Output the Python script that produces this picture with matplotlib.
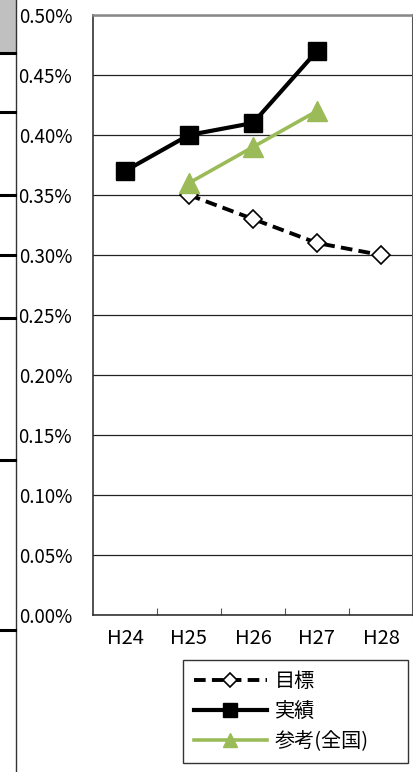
import matplotlib
matplotlib.use("Agg")
import matplotlib.pyplot as plt
import matplotlib.ticker as mticker
from matplotlib.lines import Line2D
from matplotlib.patches import Rectangle

plt.rcParams["font.family"] = ["Noto Sans CJK JP", "DejaVu Sans"]

years = ["H24", "H25", "H26", "H27", "H28"]
target = [None, 0.35, 0.33, 0.31, 0.30]       # 目標
actual = [0.37, 0.40, 0.41, 0.47, None]       # 実績
national = [None, 0.36, 0.39, 0.42, None]     # 参考(全国)

GREEN = "#9bbb59"
W, H = 414, 772


def _pts(series):
    xs = [i for i, v in enumerate(series) if v is not None]
    ys = [v for v in series if v is not None]
    return xs, ys


fig = plt.figure(figsize=(W / 100, H / 100), dpi=100)
ax = fig.add_axes([93 / W, 1 - 615 / H, 320 / W, 600 / H])

x, y = _pts(target)
ax.plot(x, y, color="black", lw=2.8, ls=(0, (3, 1.6)), marker="D", ms=9,
        mfc="white", mec="black", mew=1.2, label="目標", zorder=3)
x, y = _pts(actual)
ax.plot(x, y, color="black", lw=3, marker="s", ms=13, label="実績", zorder=4)
x, y = _pts(national)
ax.plot(x, y, color=GREEN, lw=2.6, marker="^", ms=14, label="参考(全国)", zorder=5)

ax.set_xlim(-0.5, 4.5)
ax.set_ylim(0, 0.5)
ax.set_xticks(range(len(years)))
ax.set_xticklabels(years)
ax.set_xticks([0.5, 1.5, 2.5, 3.5], minor=True)
ax.tick_params(axis="x", which="major", length=0, pad=9, labelsize=14.5)
ax.tick_params(axis="x", which="minor", direction="in", length=5, width=0.8,
               color="#555555")
ax.set_yticks([i * 0.05 for i in range(11)])
ax.yaxis.set_major_formatter(mticker.FuncFormatter(lambda v, _: f"{v:.2f}%"))
ax.tick_params(axis="y", length=0, pad=15, labelsize=13.5)

ax.grid(axis="y", color="#222222", lw=0.9)
ax.set_axisbelow(True)
for side in ["left", "bottom"]:
    ax.spines[side].set_color("#333333")
    ax.spines[side].set_linewidth(1.2)
ax.spines["top"].set_color("#888888")
ax.spines["top"].set_linewidth(1.8)
ax.spines["right"].set_color("#555555")
ax.spines["right"].set_linewidth(1.5)

leg = fig.legend(loc="upper left",
                 bbox_to_anchor=(183 / W, 1 - 765 / H, 225 / W, 105 / H),
                 mode="expand", fontsize=14.5, markerscale=0.75,
                 handlelength=3.6, handletextpad=0.4, labelspacing=0.45,
                 borderpad=0.55, borderaxespad=0, fancybox=False,
                 edgecolor="#333333", framealpha=1)
leg.get_frame().set_linewidth(1.0)

# edge of the neighbouring table on the left
fig.add_artist(Rectangle((0, 1 - 53 / H), 16 / W, 53 / H,
                         transform=fig.transFigure, color="#c0c0c0", lw=0))
fig.add_artist(Line2D([16 / W, 16 / W], [0, 1], transform=fig.transFigure,
                      color="#333333", lw=1))
for yy in [53, 112, 195, 255, 318, 460, 630]:
    fig.add_artist(Line2D([0, 15 / W], [1 - yy / H, 1 - yy / H],
                          transform=fig.transFigure, color="black", lw=2.2))

fig.savefig("out.png", dpi=100)
